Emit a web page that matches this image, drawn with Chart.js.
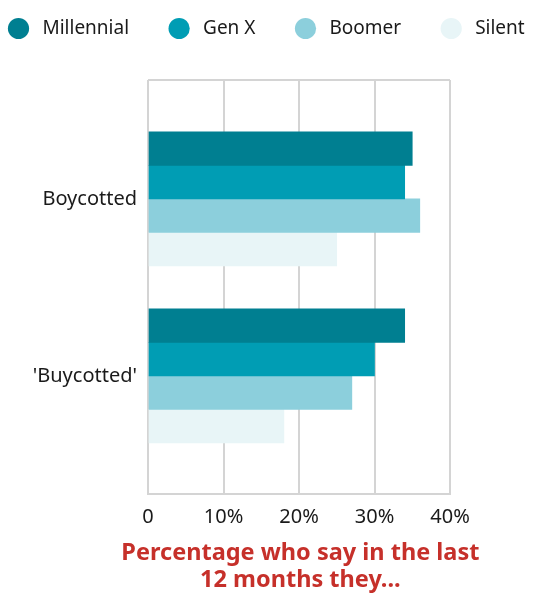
<!DOCTYPE html>
<html>
<head>
<meta charset="utf-8">
<script src="https://cdn.jsdelivr.net/npm/chart.js@4"></script>
<style>
  body { margin: 0; background: #fff; }
</style>
</head>
<body>
<canvas id="chart" width="555" height="594"></canvas>
<script>
const categories = ['Boycotted', "'Buycotted'"]
const generations = ['Millennial', 'Gen X', 'Boomer', 'Silent']
const millennial = [35, 34]
const genX = [34, 30]
const boomer = [36, 27]
const silent = [25, 18]
const xTicks = [0, 10, 20, 30, 40]
const colors = ['#007f91', '#009db4', '#8ccfdc', '#e8f5f7']

const seriesValues = [millennial, genX, boomer, silent]
const gridColor = '#d4d4d4'
const yMin = -0.672
const yMax = 1.667
const tickFont = { family: 'Noto Sans', size: 20 }
const pad = '       '

const ctx = document.getElementById('chart')

const chart = new Chart(ctx, {
  type: 'bar',
  data: {
    datasets: generations.map((name, i) => ({
      label: name,
      data: seriesValues[i].map((v, j) => ({ x: v, y: j })),
      xAxisID: 'x',
      yAxisID: 'y',
      backgroundColor: colors[i],
      borderWidth: 0,
      barThickness: 33.5,
    })),
  },
  options: {
    indexAxis: 'y',
    responsive: false,
    animation: false,
    layout: { padding: { left: 3, right: 0, top: 13, bottom: 0 } },
    plugins: {
      tooltip: { enabled: false },
      legend: {
        position: 'top',
        align: 'start',
        labels: {
          usePointStyle: true,
          pointStyle: 'circle',
          boxHeight: 15,
          boxWidth: 19,
          padding: 6,
          color: '#1a1a1a',
          font: { family: 'Noto Sans', size: 19 },
          // spaces widen the gap after each dot and between items
          generateLabels: (c) => Chart.defaults.plugins.legend.labels.generateLabels(c).map((l, i, all) => {
            l.text = ' ' + l.text + (i < all.length - 1 ? '       ' : '')
            return l
          }),
        },
      },
      title: {
        display: true,
        position: 'bottom',
        // leading spaces move the centre over the plot area
        text: [pad + 'Percentage who say in the last', pad + '12 months they...'],
        color: '#c6302a',
        font: { family: 'Noto Sans', size: 23.5, weight: 'bold', lineHeight: 1.15 },
        padding: { top: 0, bottom: 0 },
      },
    },
    scales: {
      x: {
        min: 0,
        max: 40,
        afterBuildTicks: (scale) => { scale.ticks = xTicks.map(v => ({ value: v })) },
        grid: { color: gridColor, lineWidth: 2, drawTicks: false },
        border: { color: gridColor, width: 2 },
        ticks: {
          padding: 11,
          color: '#1a1a1a',
          font: tickFont,
          callback: (v) => v === 0 ? '0' : v + '%',
        },
      },
      top: {
        position: 'top',
        display: true,
        grid: { display: false },
        border: { display: false },
        ticks: { display: false },
        afterFit: (s) => { s.height = 32 },
      },
      right: {
        position: 'right',
        display: true,
        grid: { display: false },
        border: { display: false },
        ticks: { display: false },
        afterFit: (s) => { s.width = 105 },
      },
      y: {
        type: 'linear',
        reverse: true,
        offset: false,
        min: yMin,
        max: yMax,
        afterBuildTicks: (scale) => {
          scale.ticks = [yMin].concat(categories.map((c, i) => i), [yMax]).map(v => ({ value: v }))
        },
        afterFit: (s) => { s.width = 145 },
        grid: {
          offset: false,
          drawTicks: false,
          lineWidth: 2,
          color: (c) => (c.tick && Number.isInteger(c.tick.value)) ? 'rgba(0,0,0,0)' : gridColor,
        },
        border: { display: false },
        ticks: {
          padding: 11,
          color: '#1a1a1a',
          font: tickFont,
          callback: (v) => Number.isInteger(v) ? categories[v] : '',
        },
      },
    },
  },
})
</script>
</body>
</html>
